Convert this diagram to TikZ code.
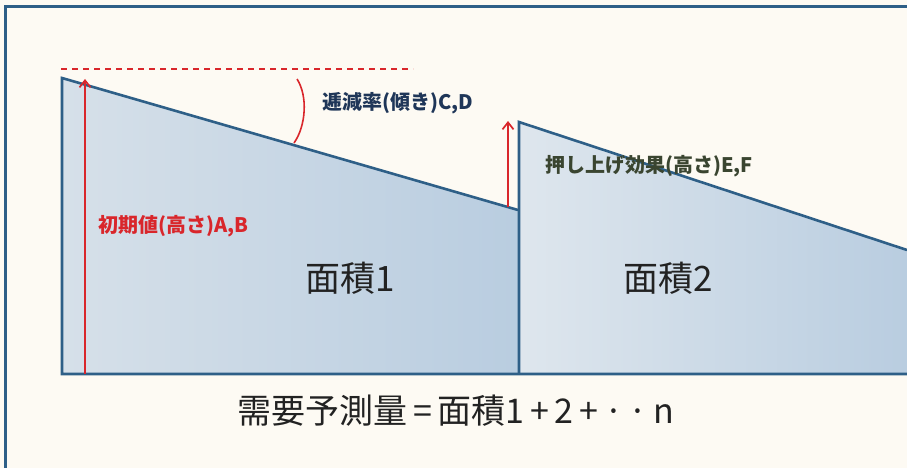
\documentclass[tikz,border=0pt]{standalone}
\usepackage{fontspec}
\newfontfamily\jp{Noto Sans CJK JP}
\usetikzlibrary{arrows.meta}
\definecolor{bg}{HTML}{FDFAF3}
\definecolor{edge}{HTML}{2E5F87}
\definecolor{redl}{HTML}{D9262B}
\definecolor{navy}{HTML}{1F3658}
\definecolor{olive}{HTML}{3A4530}
\definecolor{fillL}{HTML}{D6E0E9}
\definecolor{fillR}{HTML}{B9CDE0}
\definecolor{txt}{HTML}{222222}
\begin{document}
\begin{tikzpicture}[x=1pt,y=-1pt,
  outline/.style={draw=edge,line width=2.6pt,line join=miter},
  redarrow/.style={draw=redl,line width=1.7pt,-{Straight Barb[length=7pt,width=11pt,line width=1.7pt]}},
  lbl/.style={font=\jp\bfseries\fontsize{20}{24}\selectfont,inner sep=0pt},
  big/.style={font=\jp\fontsize{35}{40}\selectfont,text=txt,inner sep=0pt}]
\fill[bg] (0,0) rectangle (907,468);
\useasboundingbox (0,0) rectangle (907,468);
% frame
\draw[edge,line width=3pt] (5,468) -- (5,7) -- (907,7);
% key points
\coordinate (p1b) at (62,374);
\coordinate (p1t) at (62,78);
\coordinate (p1e) at (518,210);
\coordinate (p1f) at (518,374);
\coordinate (p2b) at (519,374);
\coordinate (p2t) at (519,122);
\coordinate (p2e) at (907,250);
\coordinate (p2f) at (907,374);
% fills
\shade[left color=fillL,right color=fillR] (p1b) -- (p1t) -- (p1e) -- (p1f) -- cycle;
\shade[left color=fillL!80!white,right color=fillR] (p2b) -- (p2t) -- (p2e) -- (p2f) -- cycle;
% outlines
\draw[outline] (p1e) -- (p1t) -- (p1b) -- (p2f);
\draw[outline] (p2b) -- (p2t) -- (p2e);
% red guides
\coordinate (d1) at (61,69);
\coordinate (d2) at (413,69);
\draw[redl,line width=1.8pt,dash pattern=on 6pt off 5pt] (d1) -- (d2);
\coordinate (a1s) at (85,374);
\coordinate (a1e) at (85,79);
\draw[redarrow] (a1s) -- (a1e);
\coordinate (a2s) at (508,207);
\coordinate (a2e) at (508,121);
\draw[redarrow] (a2s) -- (a2e);
\coordinate (arcs) at (297,79);
\coordinate (arce) at (294,143);
\draw[redl,line width=1.6pt] (arcs) .. controls (308,96) and (306,126) .. (arce);
% labels
\node[lbl,text=navy,anchor=west] (lslope) at (322,103) {逓減率(傾き)C,D};
\node[lbl,text=olive,anchor=west] (lpush) at (545,166) {押し上げ効果(高さ)E,F};
\node[lbl,text=redl,anchor=west] (linit) at (98,226) {初期値(高さ)A,B};
\node[big] (area1) at (350,278) {面積1};
\node[big] (area2) at (668,278) {面積2};
\node[big,font=\jp\fontsize{34}{40}\selectfont] (total) at (456,411) {需要予測量\,=\,面積1\,+\,2\,+\,·\,·\,n};
\end{tikzpicture}
\end{document}
